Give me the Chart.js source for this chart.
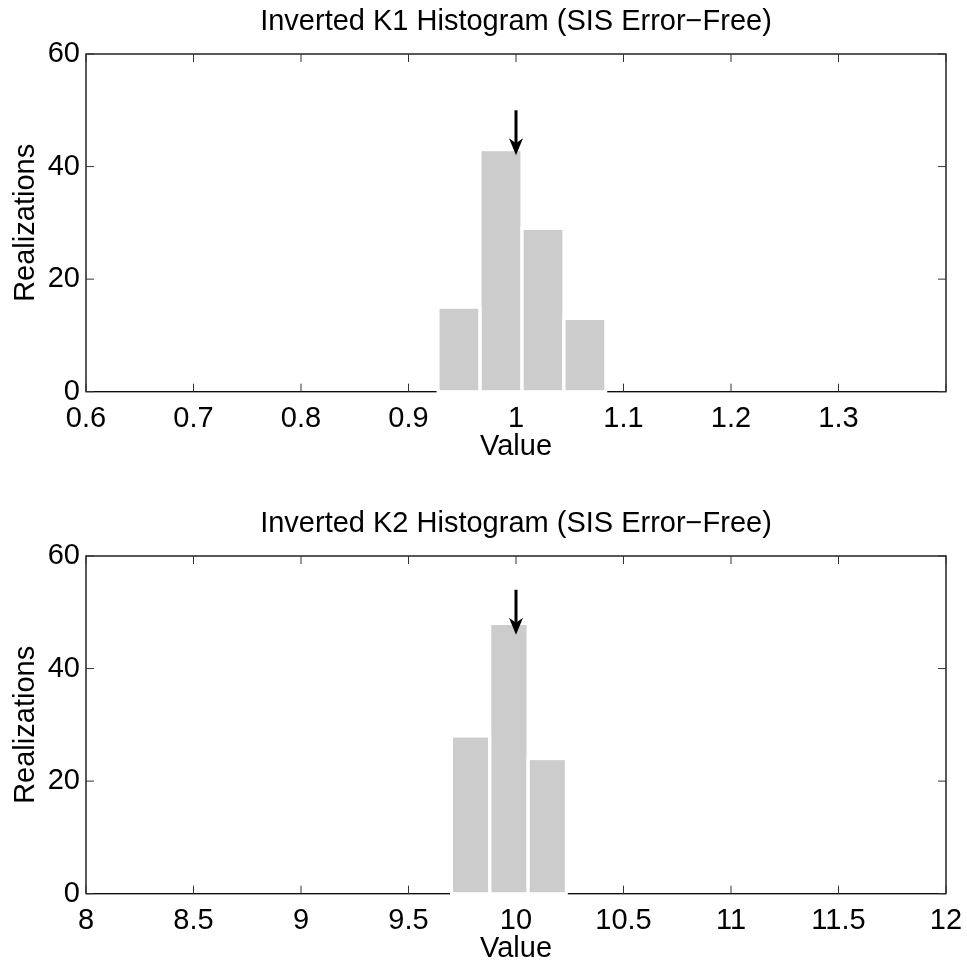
<!DOCTYPE html>
<html>
<head>
<meta charset="utf-8">
<title>Inverted K1 / K2 Histograms</title>
<script src="https://cdn.jsdelivr.net/npm/chart.js@4.4.0/dist/chart.umd.min.js"></script>
<style>
  html, body { margin: 0; padding: 0; background: #fff; overflow: hidden; }
  .panel { position: absolute; left: 0; width: 967px; height: 470px; }
  #panelK1 { top: 0; }
  #panelK2 { top: 502px; }
</style>
</head>
<body>
<div class="panel" id="panelK1"><canvas id="chartK1"></canvas></div>
<div class="panel" id="panelK2"><canvas id="chartK2"></canvas></div>
<script>
// Histogram bin centres and counts (100 realizations per parameter)
const k1Bins = [0.947, 0.986, 1.025, 1.064];
const k1Counts = [15, 43, 29, 13];
const k2Bins = [9.789, 9.967, 10.145];
const k2Counts = [28, 48, 24];

// True value marked by the arrow: [x, arrow start, arrow tip]
const k1Marker = [1.0, 50, 42];
const k2Marker = [10.0, 54, 46];

// Axis ticks
const k1Ticks = [0.6, 0.7, 0.8, 0.9, 1.0, 1.1, 1.2, 1.3, 1.4];
const k2Ticks = [8, 8.5, 9, 9.5, 10, 10.5, 11, 11.5, 12];
const countTicks = [0, 20, 40, 60];

const FONT = "'Liberation Sans', Arial, Helvetica, sans-serif";
const BAR_GREY = '#cccccc';
const TICK_LEN = 8;

// Box around the axes with inward tick marks, white bar outlines and the arrow
const framePlugin = {
  id: 'frame',
  beforeDatasetsDraw(chart) {
    const { ctx, chartArea: a, scales: { x, y } } = chart;
    ctx.save();
    ctx.strokeStyle = '#000';
    ctx.lineWidth = 1.3;
    ctx.strokeRect(a.left, a.top, a.right - a.left, a.bottom - a.top);

    ctx.lineWidth = 1;
    ctx.strokeStyle = '#333';
    ctx.beginPath();
    x.ticks.forEach(t => {
      const px = x.getPixelForValue(t.value);
      ctx.moveTo(px, a.bottom);
      ctx.lineTo(px, a.bottom - TICK_LEN);
      ctx.moveTo(px, a.top);
      ctx.lineTo(px, a.top + TICK_LEN);
    });
    y.ticks.forEach(t => {
      const py = y.getPixelForValue(t.value);
      ctx.moveTo(a.left, py);
      ctx.lineTo(a.left + TICK_LEN, py);
      ctx.moveTo(a.right, py);
      ctx.lineTo(a.right - TICK_LEN, py);
    });
    ctx.stroke();
    ctx.restore();
  },
  afterDatasetsDraw(chart, args, opts) {
    const { ctx, scales: { x, y } } = chart;
    ctx.save();

    // white edges separate the bars and hide the axis line beneath them
    ctx.strokeStyle = '#fff';
    ctx.lineWidth = 3;
    chart.getDatasetMeta(0).data.forEach(bar => {
      const p = bar.getProps(['x', 'y', 'base', 'width'], true);
      ctx.strokeRect(p.x - p.width / 2, p.y, p.width, p.base - p.y);
    });

    if (opts.marker) {
      const [value, from, to] = opts.marker;
      const px = x.getPixelForValue(value);
      const y0 = y.getPixelForValue(from);
      const y1 = y.getPixelForValue(to);
      const headLen = 17, headHalf = 7;
      ctx.strokeStyle = '#000';
      ctx.fillStyle = '#000';
      ctx.lineWidth = 3;
      ctx.beginPath();
      ctx.moveTo(px, y0);
      ctx.lineTo(px, y1 - headLen + 5);
      ctx.stroke();
      ctx.beginPath();
      ctx.moveTo(px, y1);
      ctx.lineTo(px - headHalf, y1 - headLen);
      ctx.lineTo(px, y1 - headLen + 5);
      ctx.lineTo(px + headHalf, y1 - headLen);
      ctx.closePath();
      ctx.fill();
    }
    ctx.restore();
  }
};

function fmt(v) {
  return String(Number(v.toFixed(2)));
}

function noSidePadding(s) {
  s.paddingLeft = 0;
  s.paddingRight = 0;
}

function makeHistogram(canvasId, title, bins, counts, xTicks, marker, hideLastLabel) {
  const canvas = document.getElementById(canvasId);
  const first = xTicks[0];
  const last = xTicks[xTicks.length - 1];
  return new Chart(canvas.getContext('2d'), {
    type: 'bar',
    data: {
      datasets: [{
        data: bins.map((b, i) => ({ x: b, y: counts[i] })),
        backgroundColor: BAR_GREY,
        borderWidth: 0,
        barPercentage: 1,
        categoryPercentage: 1
      }]
    },
    options: {
      responsive: true,
      maintainAspectRatio: false,
      animation: false,
      events: [],
      layout: { padding: { left: 0, right: 21, top: 0, bottom: 0 } },
      plugins: {
        legend: { display: false },
        tooltip: { enabled: false },
        title: { display: false },
        frame: { marker: marker }
      },
      scales: {
        // empty top axis that carries the plot title, centred over the box
        top: {
          type: 'linear',
          position: 'top',
          offset: false,
          min: first,
          max: last,
          afterFit: s => { s.height = 54; noSidePadding(s); },
          grid: { display: false, drawTicks: false },
          border: { display: false },
          ticks: { display: false },
          title: {
            display: true,
            text: title,
            color: '#000',
            font: { family: FONT, size: 29 },
            padding: { top: 5, bottom: 0 }
          }
        },
        x: {
          type: 'linear',
          position: 'bottom',
          offset: false,
          min: first,
          max: last,
          afterBuildTicks: s => { s.ticks = xTicks.map(v => ({ value: v })); },
          afterFit: s => { s.height = 78.3; noSidePadding(s); },
          grid: { display: false, drawTicks: false },
          border: { display: false },
          ticks: {
            color: '#000',
            padding: 10,
            maxRotation: 0,
            autoSkip: false,
            font: { family: FONT, size: 29 },
            callback: v => (hideLastLabel && v === last) ? '' : fmt(v)
          },
          title: {
            display: true,
            text: 'Value',
            color: '#000',
            font: { family: FONT, size: 29 },
            padding: { top: 0, bottom: 6 }
          }
        },
        y: {
          min: 0,
          max: 60,
          afterBuildTicks: s => { s.ticks = countTicks.map(v => ({ value: v })); },
          afterFit: s => { s.width = 86; },
          grid: { display: false, drawTicks: false },
          border: { display: false },
          ticks: {
            color: '#000',
            padding: 6,
            font: { family: FONT, size: 29 },
            callback: v => fmt(v)
          },
          title: {
            display: true,
            text: 'Realizations',
            color: '#000',
            font: { family: FONT, size: 29 },
            padding: { top: 9, bottom: 0 }
          }
        }
      }
    },
    plugins: [framePlugin]
  });
}

makeHistogram('chartK1', 'Inverted K1 Histogram (SIS Error\u2212Free)', k1Bins, k1Counts, k1Ticks, k1Marker, true);
makeHistogram('chartK2', 'Inverted K2 Histogram (SIS Error\u2212Free)', k2Bins, k2Counts, k2Ticks, k2Marker, false);
</script>
</body>
</html>
